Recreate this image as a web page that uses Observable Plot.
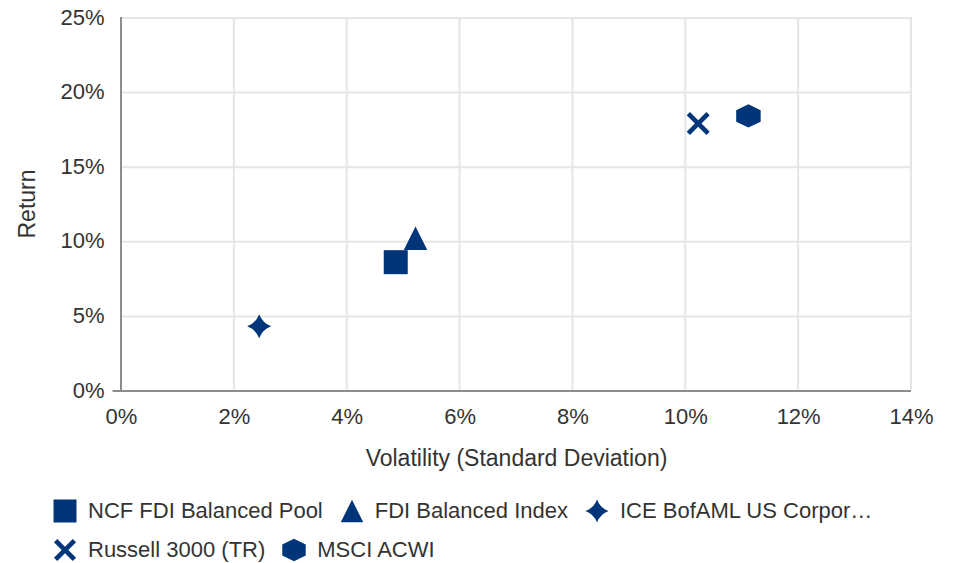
<!DOCTYPE html>
<html>
<head>
<meta charset="utf-8">
<script src="https://cdn.jsdelivr.net/npm/d3@7"></script>
<script src="https://cdn.jsdelivr.net/npm/@observablehq/plot@0.6"></script>
<style>
  html, body { margin: 0; padding: 0; background: #fff; }
  body { width: 957px; height: 563px; overflow: hidden; font-family: "Liberation Sans", Arial, sans-serif; color: #333; }
  #legend { padding-left: 53px; margin-top: 19px; font-size: 22px; }
  .row { display: flex; align-items: center; height: 24px; margin-bottom: 15px; }
  .item { display: flex; align-items: center; margin-right: 17px; white-space: nowrap; }
  .item svg { margin-right: 11px; flex: none; }
</style>
</head>
<body>
<div id="chart"></div>
<div id="legend"></div>
<script>
// ---- data ----
const names = ["NCF FDI Balanced Pool", "FDI Balanced Index", "ICE BofAML US Corpor…", "Russell 3000 (TR)", "MSCI ACWI"];
const volatility = [4.86, 5.21, 2.44, 10.22, 11.11]; // %
const returns = [8.6, 10.2, 4.3, 17.9, 18.4];          // %
const xTicks = [0, 2, 4, 6, 8, 10, 12, 14];
const yTicks = [0, 5, 10, 15, 20, 25];
const xTitle = "Volatility (Standard Deviation)";
const yTitle = "Return";
const legendRows = [[0, 1, 2], [3, 4]];

const blue = "#00357a";

// ---- custom symbols (r = sqrt(size/pi)) ----
const rOf = size => Math.sqrt(size / Math.PI);
const square = { draw(c, size) { const r = rOf(size); c.rect(-r, -r, 2 * r, 2 * r); } };
const triangle = { draw(c, size) { const r = rOf(size) * 0.98; c.moveTo(0, -r); c.lineTo(r, r); c.lineTo(-r, r); c.closePath(); } };
const star4 = { draw(c, size) { const r = rOf(size); const k = r * 0.27;
  c.moveTo(0, -r); c.quadraticCurveTo(k, -k, r, 0); c.quadraticCurveTo(k, k, 0, r);
  c.quadraticCurveTo(-k, k, -r, 0); c.quadraticCurveTo(-k, -k, 0, -r); c.closePath(); } };
const times = { draw(c, size) { const a = rOf(size) * 0.96; const m = 3.3;
  const pts = [[-a, -a + m], [-a + m, -a], [0, -m], [a - m, -a], [a, -a + m], [m, 0], [a, a - m], [a - m, a], [0, m], [-a + m, a], [-a, a - m], [-m, 0]];
  c.moveTo(...pts[0]); for (const p of pts.slice(1)) c.lineTo(...p); c.closePath(); } };
const hexagon = { draw(c, size) { const r = rOf(size); const w = r * 1.02, h = r * 0.97;
  const pts = [[0, -h], [w, -h / 2], [w, h / 2], [0, h], [-w, h / 2], [-w, -h / 2]];
  c.moveTo(...pts[0]); for (const p of pts.slice(1)) c.lineTo(...p); c.closePath(); } };
const symbols = [square, triangle, star4, times, hexagon];

const data = names.map((name, i) => ({ name, x: volatility[i], y: returns[i] }));

const chart = Plot.plot({
  width: 957,
  height: 480,
  marginLeft: 121,
  marginRight: 46,
  marginTop: 17,
  marginBottom: 90,
  style: { fontFamily: "Liberation Sans, Arial, sans-serif", fontSize: "22px", color: "#333", background: "#fff", overflow: "visible" },
  x: { domain: [0, 14], ticks: xTicks, tickFormat: d => d + "%" },
  y: { domain: [0, 25], ticks: yTicks, tickFormat: d => d + "%" },
  symbol: { domain: names, range: symbols },
  marks: [
    Plot.gridX(xTicks, { stroke: "#e6e6e6", strokeOpacity: 1, strokeWidth: 2, dx: -0.5 }),
    Plot.gridY(yTicks, { stroke: "#e6e6e6", strokeOpacity: 1, strokeWidth: 2, dy: 0.5 }),
    Plot.ruleX([0], { stroke: "#8c8c8c", strokeWidth: 2, dx: -0.5 }),
    Plot.ruleY([0], { stroke: "#8c8c8c", strokeWidth: 2, dy: 0.5, x1: -0.15, x2: 14 }),
    Plot.axisX(xTicks, { tickSize: 0, tickPadding: 18, tickFormat: d => d + "%", fill: "#333", label: null }),
    Plot.axisY(yTicks, { tickSize: 0, tickPadding: 17, tickFormat: d => d + "%", fill: "#333", label: null }),
    Plot.text([xTitle], { frameAnchor: "bottom", lineAnchor: "middle", dy: 68, fontSize: 23, fill: "#333" }),
    Plot.text([yTitle], { frameAnchor: "left", textAnchor: "middle", lineAnchor: "middle", dx: -94, rotate: -90, fontSize: 23, fill: "#333" }),
    Plot.dot(data, { x: "x", y: "y", symbol: "name", r: 12, fill: blue, stroke: null })
  ]
});
document.getElementById("chart").appendChild(chart);

// ---- legend ----
const legend = document.getElementById("legend");
for (const row of legendRows) {
  const rowEl = document.createElement("div");
  rowEl.className = "row";
  for (const i of row) {
    const item = document.createElement("div");
    item.className = "item";
    const pathObj = d3.path();
    symbols[i].draw(pathObj, 11.5 * 11.5 * Math.PI);
    item.innerHTML = `<svg width="24" height="24" viewBox="-12 -12 24 24"><path d="${pathObj.toString()}" fill="${blue}"></path></svg><span>${names[i]}</span>`;
    rowEl.appendChild(item);
  }
  legend.appendChild(rowEl);
}
</script>
</body>
</html>
